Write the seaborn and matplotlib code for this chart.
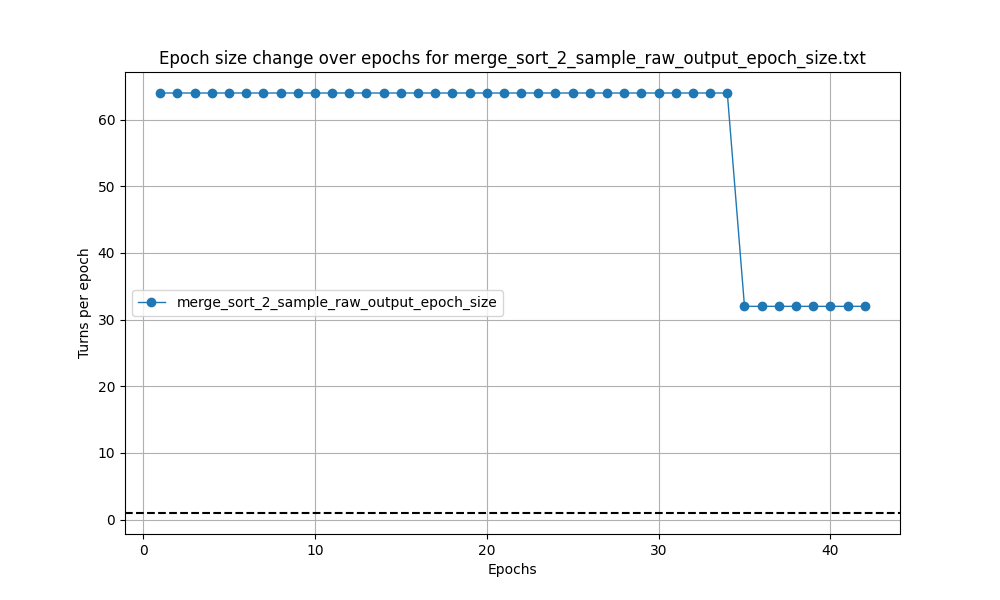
import matplotlib
matplotlib.use("Agg")
import matplotlib.pyplot as plt
import seaborn as sns
import pandas as pd

epochs = list(range(1, 43))
turns = [64] * 34 + [32] * 8
series_name = "merge_sort_2_sample_raw_output_epoch_size"
threshold = 1

df = pd.DataFrame({"Epochs": epochs, "Turns per epoch": turns})

fig, ax = plt.subplots(figsize=(10, 6), dpi=100)
sns.lineplot(data=df, x="Epochs", y="Turns per epoch", marker="o", linewidth=1,
             markersize=6, markeredgewidth=1, markeredgecolor="#1f77b4",
             color="#1f77b4", label=series_name, ax=ax)
ax.axhline(threshold, color="black", linestyle="--")
ax.set_title("Epoch size change over epochs for merge_sort_2_sample_raw_output_epoch_size.txt")
ax.set_xlabel("Epochs")
ax.set_ylabel("Turns per epoch")
ax.grid(True)
ax.legend(loc="center left")
fig.savefig("out.png")
